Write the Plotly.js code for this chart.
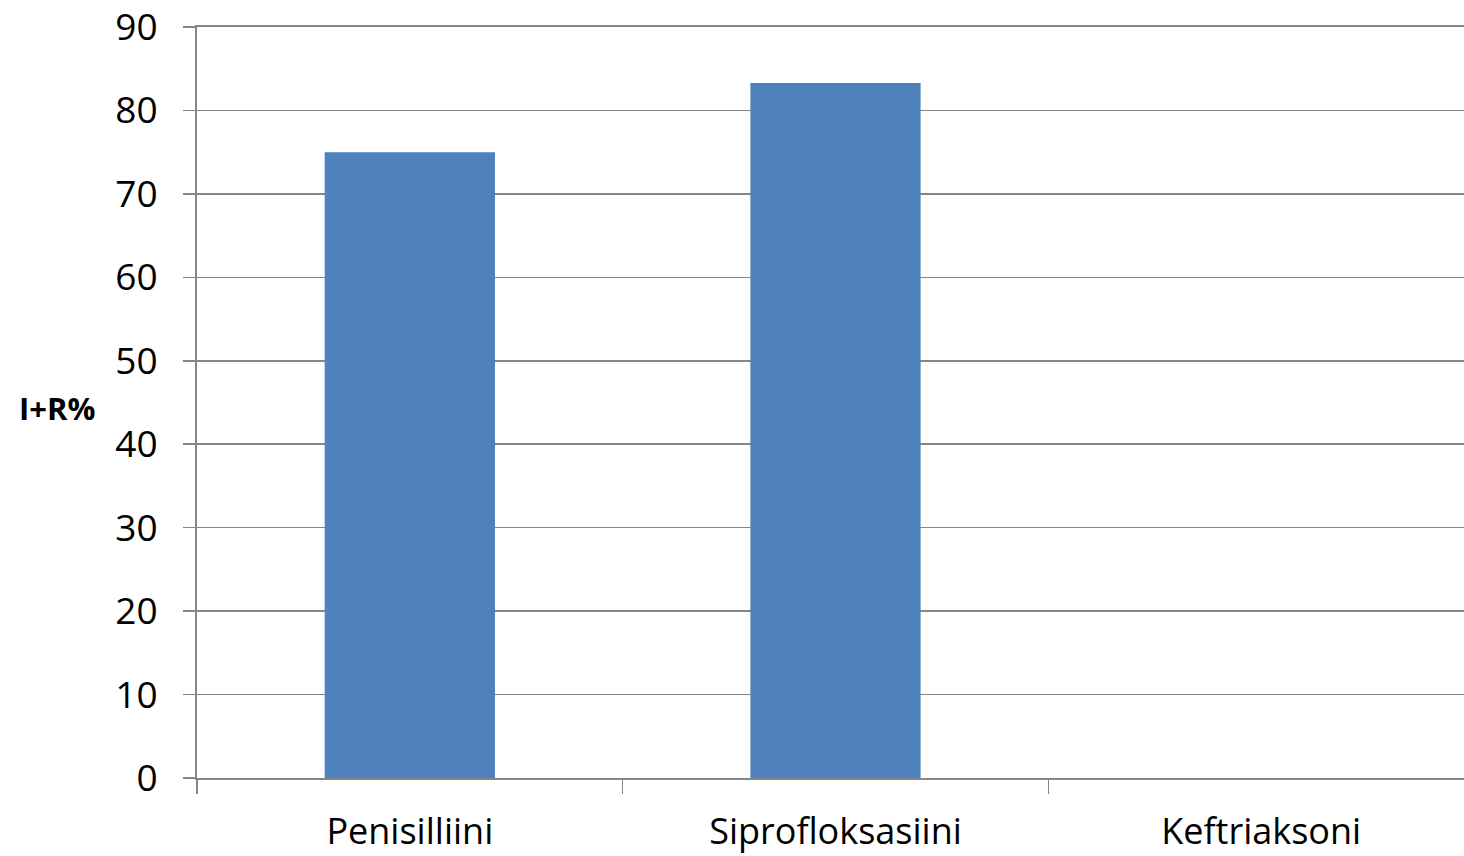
<!DOCTYPE html>
<html>
<head>
<meta charset="utf-8">
<script src="https://cdn.plot.ly/plotly-3.0.1.min.js"></script>
<style>html,body{margin:0;padding:0;background:#fff;overflow:hidden;width:1464px;height:856px}#chart{width:1474px;height:856px}</style>
</head>
<body>
<div id="chart"></div>
<script>
const categories = ["Penisilliini", "Siprofloksasiini", "Keftriaksoni"];
const values = [75, 83.3, 0];
const yTitle = "I+R%";

const fontFam = "Open Sans, Liberation Sans, sans-serif";
const data = [{
  type: "bar",
  x: categories,
  y: values,
  marker: {color: "#4F81BD"},
  width: 0.4,
  hoverinfo: "none"
}];
const layout = {
  width: 1474, height: 856,
  margin: {l: 197, r: 0, t: 27, b: 78},
  paper_bgcolor: "#fff", plot_bgcolor: "#fff",
  showlegend: false,
  bargap: 0.6,
  xaxis: {
    type: "category",
    showline: true, linecolor: "#868686", linewidth: 2, mirror: true,
    ticks: "outside", ticklen: 14, tickwidth: 1.5, tickcolor: "#868686",
    tickson: "boundaries",
    showgrid: false,
    tickfont: {family: fontFam, size: 36, color: "#000"},
    ticklabelstandoff: 21,
    ticklabeloverflow: "allow",
    fixedrange: true
  },
  yaxis: {
    range: [0, 90], dtick: 10, tick0: 0,
    showline: true, linecolor: "#868686", linewidth: 2,
    ticks: "outside", ticklen: 12, tickwidth: 1.5, tickcolor: "#868686",
    showgrid: true, gridcolor: "#868686", gridwidth: 1.5,
    zeroline: false,
    tickfont: {family: fontFam, size: 37, color: "#000"},
    ticklabelstandoff: 18,
    ticklabeloverflow: "allow",
    fixedrange: true
  },
  annotations: [{
    text: "<b>" + yTitle + "</b>",
    xref: "paper", yref: "paper",
    x: -0.1096, y: 0.493, xanchor: "center", yanchor: "middle",
    showarrow: false,
    font: {family: fontFam, size: 31, color: "#000"}
  }]
};
Plotly.newPlot("chart", data, layout, {displayModeBar: false, staticPlot: true});
</script>
</body>
</html>
